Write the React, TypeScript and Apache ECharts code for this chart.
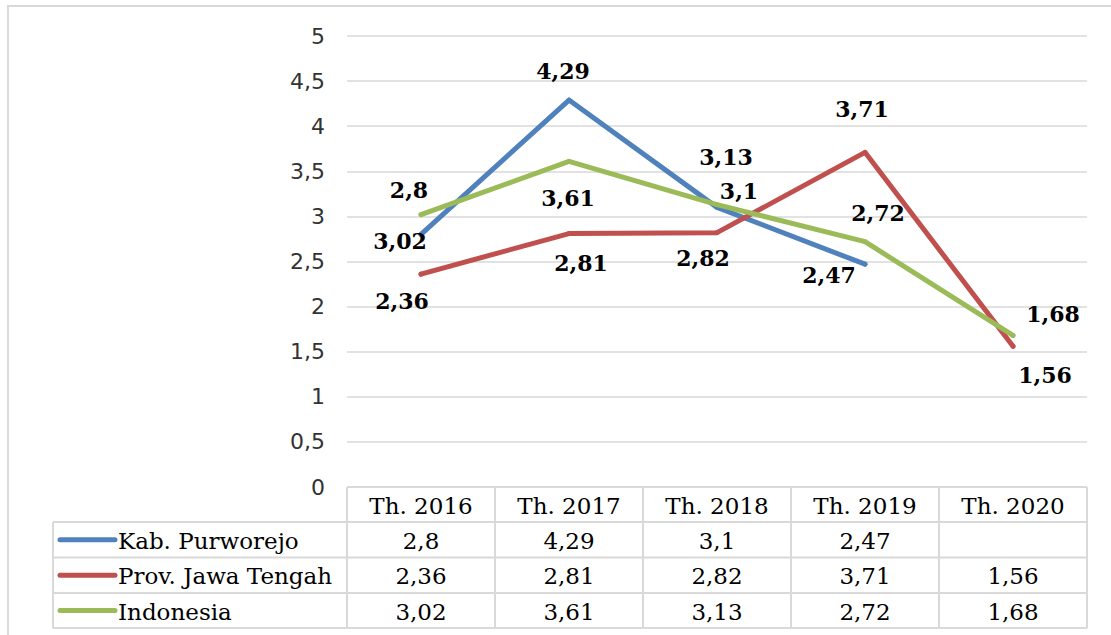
import { useEffect, useRef } from "react";
import * as echarts from "echarts";

// ---- data ----
const categories = ["Th. 2016", "Th. 2017", "Th. 2018", "Th. 2019", "Th. 2020"];
const seriesNames = ["Kab. Purworejo", "Prov. Jawa Tengah", "Indonesia"];
const purworejo: (number | null)[] = [2.8, 4.29, 3.1, 2.47, null];
const jawaTengah: (number | null)[] = [2.36, 2.81, 2.82, 3.71, 1.56];
const indonesia: (number | null)[] = [3.02, 3.61, 3.13, 2.72, 1.68];
const yMin = 0;
const yMax = 5;
const yInterval = 0.5;

// ---- styling / layout ----
const COLORS = ["#4f81bd", "#c0504d", "#9bbb59"];
const LABEL_OFFSETS: number[][][] = [
  [[-12, -44], [-6, -29], [22, -16], [-36, 11], [0, 0]],
  [[-19, 27], [12, 29], [-14, 25], [-3, -43], [32, 29]],
  [[-21, 26], [-1, 37], [9, -48], [13, -29], [40, -21]],
];
const W = 1111;
const H = 635;
const G_LEFT = 347;
const G_RIGHT = 1087;
const G_TOP = 36;
const G_BOTTOM = 487;
const ROW_YS = [487, 522, 557.5, 593, 628];
const TABLE_LEFT = 53;
const GRID_COLOR = "#d9d9d9";
const TABLE_FONT = "23px DejaVu Serif";

const fmt = (v: number | null) => (v == null ? "" : String(v).replace(".", ","));

export default function App() {
  const ref = useRef<HTMLDivElement>(null);

  useEffect(() => {
    if (!ref.current) return;
    const chart = echarts.init(ref.current, null, { renderer: "svg" });
    const allSeries = [purworejo, jawaTengah, indonesia];
    const n = categories.length;
    const colW = (G_RIGHT - G_LEFT) / n;

    const graphics: any[] = [];
    graphics.push({
      type: "rect",
      z: 0,
      shape: { x: 8, y: 6, width: 1120, height: 660 },
      style: { fill: "none", stroke: GRID_COLOR, lineWidth: 2 },
    });
    graphics.push({
      type: "line",
      shape: { x1: G_LEFT, y1: ROW_YS[0], x2: G_RIGHT, y2: ROW_YS[0] },
      style: { stroke: GRID_COLOR, lineWidth: 2 },
    });
    for (let r = 1; r < ROW_YS.length; r++) {
      graphics.push({
        type: "line",
        shape: { x1: TABLE_LEFT, y1: ROW_YS[r], x2: G_RIGHT, y2: ROW_YS[r] },
        style: { stroke: GRID_COLOR, lineWidth: 2 },
      });
    }
    graphics.push({
      type: "line",
      shape: { x1: TABLE_LEFT, y1: ROW_YS[1], x2: TABLE_LEFT, y2: ROW_YS[4] },
      style: { stroke: GRID_COLOR, lineWidth: 2 },
    });
    for (let c = 0; c <= n; c++) {
      const x = G_LEFT + c * colW;
      graphics.push({
        type: "line",
        shape: { x1: x, y1: ROW_YS[0], x2: x, y2: ROW_YS[4] },
        style: { stroke: GRID_COLOR, lineWidth: 2 },
      });
    }
    categories.forEach((cat, i) => {
      graphics.push({
        type: "text",
        x: G_LEFT + (i + 0.5) * colW,
        y: (ROW_YS[0] + ROW_YS[1]) / 2 + 1,
        style: {
          text: cat,
          font: TABLE_FONT,
          fill: "#000",
          align: "center",
          verticalAlign: "middle",
        },
      });
    });
    seriesNames.forEach((name, s) => {
      const cy = (ROW_YS[s + 1] + ROW_YS[s + 2]) / 2 + 1;
      graphics.push({
        type: "line",
        shape: { x1: 60, y1: cy - 1, x2: 115, y2: cy - 1 },
        style: { stroke: COLORS[s], lineWidth: 5, lineCap: "round" },
      });
      graphics.push({
        type: "text",
        x: 118,
        y: cy,
        style: {
          text: name,
          font: TABLE_FONT,
          fill: "#000",
          align: "left",
          verticalAlign: "middle",
        },
      });
      allSeries[s].forEach((v, i) => {
        graphics.push({
          type: "text",
          x: G_LEFT + (i + 0.5) * colW,
          y: cy,
          style: {
            text: fmt(v),
            font: TABLE_FONT,
            fill: "#000",
            align: "center",
            verticalAlign: "middle",
          },
        });
      });
    });

    const option: any = {
      animation: false,
      backgroundColor: "#fff",
      grid: {
        left: G_LEFT,
        right: W - G_RIGHT,
        top: G_TOP,
        bottom: H - G_BOTTOM,
        containLabel: false,
      },
      xAxis: {
        type: "category",
        data: categories,
        boundaryGap: true,
        axisLine: { show: false },
        axisTick: { show: false },
        axisLabel: { show: false },
      },
      yAxis: {
        type: "value",
        min: yMin,
        max: yMax,
        interval: yInterval,
        axisLine: { show: false },
        axisTick: { show: false },
        axisLabel: {
          formatter: (v: number) => fmt(v),
          color: "#333333",
          fontSize: 22,
          fontFamily: "DejaVu Sans",
          margin: 22,
        },
        splitLine: { lineStyle: { color: GRID_COLOR, width: 1.5 } },
      },
      series: allSeries.map((arr, s) => ({
        name: seriesNames[s],
        type: "line",
        symbol: "circle",
        symbolSize: 5,
        connectNulls: false,
        itemStyle: { color: COLORS[s] },
        lineStyle: { color: COLORS[s], width: 5, cap: "round", join: "round" },
        z: 3 + s,
        data: arr.map((v, i) =>
          v == null
            ? null
            : {
                value: v,
                label: { offset: LABEL_OFFSETS[s][i] },
              }
        ),
        label: {
          show: true,
          position: "inside",
          align: "center",
          verticalAlign: "middle",
          formatter: (p: any) => fmt(p.value),
          color: "#000",
          fontSize: 22,
          fontWeight: "bold",
          fontFamily: "DejaVu Serif",
        },
      })),
      graphic: graphics,
    };

    chart.setOption(option);
    return () => chart.dispose();
  }, []);

  return (
    <div
      ref={ref}
      style={{ position: "absolute", left: 0, top: 0, width: W, height: H }}
    />
  );
}
